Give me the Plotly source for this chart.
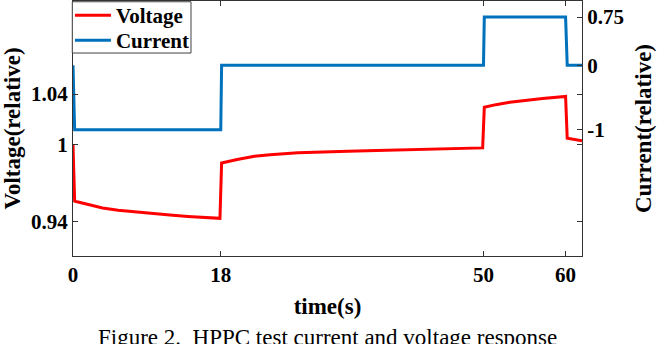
import plotly.graph_objects as go

# HPPC pulse: time axis (s), relative voltage response and relative current
time_v = [0.0, 0.2, 0.5, 1.0, 2.0, 3.6, 5.5, 7.7, 10.0, 11.8, 14.0, 16.0, 17.9,
          18.1, 19.0, 20.0, 22.1, 24.0, 27.4, 30.0, 33.5, 37.0, 41.6, 45.0, 49.9,
          50.1, 51.5, 53.2, 55.0, 57.2, 60.0,
          60.2, 62.0]
voltage = [1.0, 0.9559, 0.9553, 0.9545, 0.9528, 0.9504, 0.9487, 0.9472, 0.9459, 0.9449, 0.9438, 0.9430, 0.9423,
           0.9858, 0.9872, 0.9886, 0.9911, 0.9923, 0.9938, 0.9945, 0.9951, 0.9957, 0.9964, 0.9970, 0.9977,
           1.0296, 1.0317, 1.0335, 1.0350, 1.0366, 1.0382,
           1.0053, 1.0034]

time_i = [0.0, 0.2, 18.0, 18.1, 50.0, 50.1, 60.0, 60.2, 62.0]
current = [0.0, -1.0, -1.0, 0.0, 0.0, 0.75, 0.75, 0.0, 0.0]

x_ticks = [0, 18, 50, 60]
v_ticks = [0.94, 1.0, 1.04]
i_ticks = [-1, 0, 0.75]
i_tick_text = ["-1", "0", "0.75"]

FONT = "Liberation Serif, Times New Roman, serif"
AX = "#333333"
LEG_FONT = dict(family=FONT, size=21, weight="bold")

fig = go.Figure()
fig.add_trace(go.Scatter(x=time_v, y=voltage, name="Voltage", mode="lines",
                         line=dict(color="#ff0000", width=3), yaxis="y",
                         legend="legend"))
fig.add_trace(go.Scatter(x=time_i, y=current, name="Current", mode="lines",
                         line=dict(color="#0072bd", width=3), yaxis="y2",
                         legend="legend2"))

legend_common = dict(xanchor="left", yanchor="top", borderwidth=0,
                     bgcolor="rgba(0,0,0,0)", font=LEG_FONT, itemwidth=36)

fig.update_layout(
    width=660, height=344,
    margin=dict(l=73, r=78, t=1, b=88, autoexpand=False),
    paper_bgcolor="white", plot_bgcolor="white",
    font=dict(family=FONT, color="black"),
    showlegend=True,
    legend=dict(x=-0.006, y=1.0235, **legend_common),
    legend2=dict(x=-0.006, y=0.9255, **legend_common),
    xaxis=dict(range=[0, 62], tickvals=x_ticks, ticks="inside", ticklen=5,
               tickcolor=AX, showline=True, linecolor=AX, linewidth=1,
               mirror="ticks", showgrid=False, zeroline=False,
               tickfont=dict(family=FONT, size=21, weight="bold"),
               ticklabelstandoff=0,
               title=dict(text="time(s)", standoff=11,
                          font=dict(family=FONT, size=23, weight="bold"))),
    yaxis=dict(range=[0.9127, 1.1132], tickvals=v_ticks, ticks="inside", ticklen=5,
               tickcolor=AX, showline=True, linecolor=AX, linewidth=1,
               mirror="ticks", showgrid=False, zeroline=False,
               tickfont=dict(family=FONT, size=21, weight="bold"),
               title=dict(text="Voltage(relative)", standoff=4,
                          font=dict(family=FONT, size=23, weight="bold"))),
    yaxis2=dict(range=[-2.961, 0.999], tickvals=i_ticks, ticktext=i_tick_text,
                overlaying="y", side="right", ticks="inside", ticklen=5,
                tickcolor=AX, showline=True, linecolor=AX, linewidth=1,
                showgrid=False, zeroline=False,
                tickfont=dict(family=FONT, size=21, weight="bold"),
                title=dict(text="Current(relative)", standoff=11,
                           font=dict(family=FONT, size=23, weight="bold"))),
)

# frame around the two legend entries
fig.add_shape(type="rect", xref="paper", yref="paper",
              x0=-0.0014, x1=0.2318, y0=0.796, y1=0.997,
              line=dict(color="#404040", width=1), fillcolor="white", layer="above")

fig.add_annotation(text="Figure 2.  HPPC test current and voltage response",
                   xref="paper", yref="paper", x=0.5, y=-0.263,
                   xanchor="center", yanchor="top", showarrow=False,
                   font=dict(family=FONT, size=23, color="black"))

fig.write_html("out.html")
